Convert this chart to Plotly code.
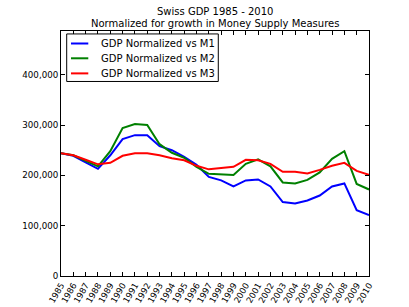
import plotly.graph_objects as go

years = list(range(1985, 2011))
gdp_vs_m1 = [244000, 239000, 226000, 213000, 240000, 272000, 280000, 280000, 258000, 250000,
             237000, 221000, 197000, 190000, 178000, 190000, 192000, 178000, 147000, 144000,
             150000, 160000, 178000, 184000, 131000, 121000]
gdp_vs_m2 = [244000, 240000, 229000, 218000, 248000, 294000, 302000, 300000, 262000, 245000,
             235000, 217000, 203000, 202000, 201000, 223000, 232000, 218000, 186000, 184000,
             191000, 206000, 233000, 248000, 183000, 172000]
gdp_vs_m3 = [244000, 240000, 231000, 222000, 225000, 239000, 244000, 244000, 240000, 234000,
             230000, 219000, 212000, 215000, 217000, 231000, 230000, 223000, 207000, 207000,
             204000, 211000, 219000, 225000, 209000, 201000]
series_names = ["GDP Normalized vs M1", "GDP Normalized vs M2", "GDP Normalized vs M3"]
series_colors = ["#0000ff", "#008000", "#ff0000"]
y_ticks = [0, 100000, 200000, 300000, 400000]
title_lines = ["Swiss GDP 1985 - 2010", "Normalized for growth in Money Supply Measures"]

font = "DejaVu Sans"
fig = go.Figure()
for name, vals, col in zip(series_names, [gdp_vs_m1, gdp_vs_m2, gdp_vs_m3], series_colors):
    fig.add_trace(go.Scatter(x=years, y=vals, mode="lines", name=name,
                             line=dict(color=col, width=2), showlegend=False,
                             hoverinfo="skip"))

# custom legend (compact, matplotlib-like)
shapes = [dict(type="rect", xref="paper", yref="paper", x0=0.0185, x1=0.5107,
               y0=0.794, y1=0.988, line=dict(color="black", width=1),
               fillcolor="white", layer="above")]
annotations = []
row_y = [0.949, 0.8886, 0.827]
for name, col, yy in zip(series_names, series_colors, row_y):
    shapes.append(dict(type="line", xref="paper", yref="paper", x0=0.0325, x1=0.0886,
                       y0=yy, y1=yy, line=dict(color=col, width=2), layer="above"))
    annotations.append(dict(text=name, xref="paper", yref="paper", x=0.1244, y=yy,
                            xanchor="left", yanchor="middle", showarrow=False,
                            font=dict(family=font, size=10, color="black")))

for txt, yy in zip(title_lines, [1.079, 1.0286]):
    annotations.append(dict(text=txt, xref="paper", yref="paper", x=0.5, y=yy,
                            xanchor="center", yanchor="middle", showarrow=False,
                            font=dict(family=font, size=10, color="black")))

fig.update_layout(
    width=409, height=307,
    margin=dict(l=61, r=40, t=31, b=31, autoexpand=False),
    paper_bgcolor="white", plot_bgcolor="white",
    font=dict(family=font, color="black", size=9),
    shapes=shapes, annotations=annotations,
    showlegend=False,
)
fig.update_xaxes(range=[1985, 2010], tickvals=years, ticktext=[str(y) for y in years],
                 tickangle=-60, ticks="inside", ticklen=4, tickcolor="black",
                 showline=True, linecolor="black", linewidth=1, mirror="ticks",
                 showgrid=False, zeroline=False, tickfont=dict(size=8.5), automargin=False)
fig.update_yaxes(range=[0, 487000], tickvals=y_ticks, tickformat=",",
                 ticks="inside", ticklen=4, tickcolor="black",
                 showline=True, linecolor="black", linewidth=1, mirror="ticks",
                 showgrid=False, zeroline=False, tickfont=dict(size=8.7), automargin=False)

fig.write_html("out.html", config={"displayModeBar": False},
               post_script="document.body.style.margin='0';document.body.style.padding='0';")
